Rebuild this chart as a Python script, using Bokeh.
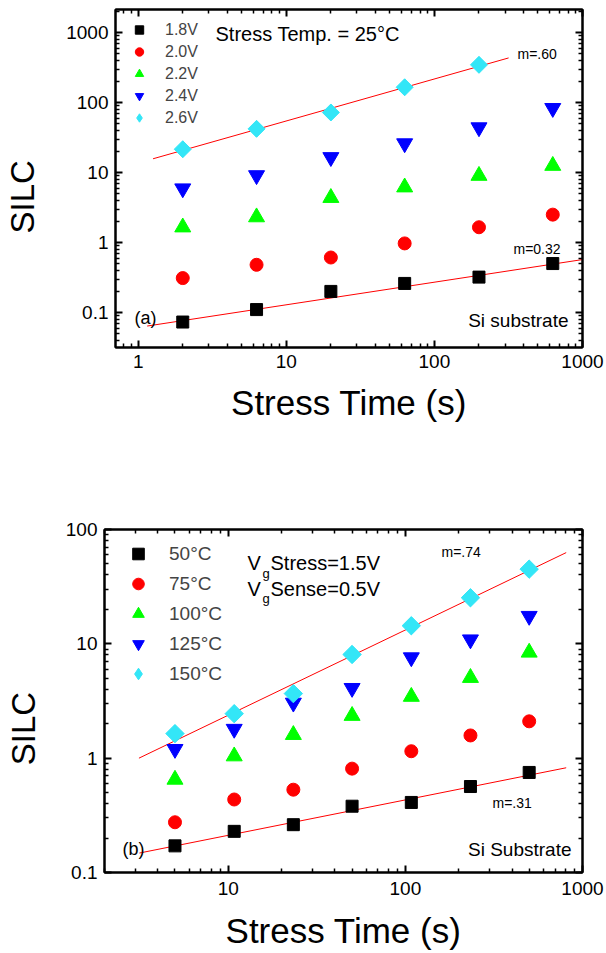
import numpy as np
from bokeh.plotting import figure
from bokeh.models import (LogAxis, FixedTicker, CustomJSTickFormatter, Label,
                          Legend, LegendItem, Range1d)
from bokeh.embed import file_html
from bokeh.resources import INLINE

FONT = "Liberation Sans"
NB = "\u00a0"

# ---------------- panel (a) data ----------------
time_a = [2, 6.3, 20, 63, 200, 630]
silc_18v = [0.073, 0.11, 0.20, 0.26, 0.32, 0.50]
silc_20v = [0.31, 0.48, 0.61, 0.97, 1.65, 2.5]
silc_22v = [1.65, 2.3, 4.35, 6.15, 9.0, 12.5]
silc_24v = [5.9, 9.1, 16.5, 26, 44, 83]
silc_26v = [21.5, 42, 72, 165, 345]
fit_a_hi_x = [1.26, 317]
fit_a_hi_y = [15.7, 433]
fit_a_lo_x = [1.15, 1000]
fit_a_lo_y = [0.064, 0.57]
labels_a = ["1.8V", "2.0V", "2.2V", "2.4V", "2.6V"]

# ---------------- panel (b) data ----------------
time_b = [5, 10.8, 23.3, 50, 108, 233, 500]
silc_50c = [0.171, 0.229, 0.262, 0.38, 0.41, 0.565, 0.75]
silc_75c = [0.275, 0.435, 0.53, 0.81, 1.15, 1.58, 2.1]
silc_100c = [0.65, 1.04, 1.6, 2.35, 3.45, 5.05, 8.4]
silc_125c = [1.2, 1.8, 3.05, 4.1, 7.6, 10.9, 17.5]
silc_150c = [1.64, 2.45, 3.67, 8.07, 14.4, 25.3, 45]
fit_b_hi_x = [3.13, 809]
fit_b_hi_y = [1.0, 62.8]
fit_b_lo_x = [3.15, 809]
fit_b_lo_y = [0.148, 0.824]
labels_b = ["50°C", "75°C", "100°C", "125°C", "150°C"]

xticks_a = [1, 10, 100, 1000]
yticks_a = [0.1, 1, 10, 100, 1000]
xticks_b = [10, 100, 1000]
yticks_b = [0.1, 1, 10, 100]

COLORS = ["#000000", "#FF0000", "#00FF00", "#0000FF", "#33E6F7"]
MARKERS = ["square", "circle", "triangle", "inverted_triangle", "square"]
ANGLES = [0, 0, 0, 0, np.pi / 4]


def minors(lo_exp, hi_exp):
    return [m * 10.0 ** k for k in range(lo_exp, hi_exp) for m in range(2, 10)]


def style(p, xt, yt, xminor, yminor, xstand, xlab_stand, ylab_stand, ylabel):
    fmt = CustomJSTickFormatter(code="return String(tick);")
    blank = CustomJSTickFormatter(code="return '';")
    bottom = p.below[0]
    left = p.left[0]
    bottom.ticker = FixedTicker(ticks=xt, minor_ticks=xminor)
    left.ticker = FixedTicker(ticks=yt, minor_ticks=yminor)
    bottom.formatter = fmt
    left.formatter = fmt
    top = LogAxis(ticker=FixedTicker(ticks=xt, minor_ticks=xminor),
                  formatter=blank, major_label_text_font_size="1px",
                  major_label_standoff=0)
    right = LogAxis(ticker=FixedTicker(ticks=yt, minor_ticks=yminor),
                    formatter=blank, major_label_text_font_size="1px",
                    major_label_standoff=0)
    p.add_layout(top, "above")
    p.add_layout(right, "right")
    for ax in [bottom, left, top, right]:
        ax.axis_line_width = 2
        ax.axis_line_color = "black"
        ax.major_tick_in = 7
        ax.major_tick_out = 0
        ax.minor_tick_in = 4
        ax.minor_tick_out = 0
        ax.major_tick_line_width = 2
        ax.minor_tick_line_width = 1.5
        ax.major_tick_line_color = "black"
        ax.minor_tick_line_color = "black"
    for ax in [bottom, left]:
        ax.major_label_text_font = FONT
        ax.major_label_text_font_size = "19px"
        ax.major_label_text_color = "black"
        ax.axis_label_text_font = FONT
        ax.axis_label_text_font_style = "normal"
        ax.axis_label_text_color = "black"
    bottom.axis_label_text_font_size = "35px"
    left.axis_label_text_font_size = "33px"
    left.major_label_standoff = 7
    bottom.major_label_standoff = xstand
    bottom.axis_label = "Stress Time (s)"
    bottom.axis_label_standoff = xlab_stand
    left.axis_label = ylabel
    left.axis_label_standoff = ylab_stand
    p.xgrid.visible = False
    p.ygrid.visible = False
    p.outline_line_color = "black"
    p.outline_line_width = 2


def lab(p, x, y, text, size, align="left"):
    p.add_layout(Label(x=x, y=y, x_units="screen", y_units="screen", text=text,
                       text_font=FONT, text_font_size=size, text_align=align,
                       text_baseline="middle", text_color="black"))


def plot_series(p, xs, series, sizes, labels):
    items = []
    for i, (s, m, sz, ang, c, l) in enumerate(zip(series, MARKERS, sizes, ANGLES,
                                                  COLORS, labels)):
        x = xs[:len(s)]
        if i == len(series) - 1:
            # diamond swatch for the legend, hidden beneath the wide diamonds
            leg_r = p.scatter(x, s, marker="diamond", size=sz + 4,
                              fill_color=c, line_color=c)
            p.scatter(x, s, marker=m, size=sz, angle=ang,
                      fill_color=c, line_color=c)
        else:
            leg_r = p.scatter(x, s, marker=m, size=sz, angle=ang,
                              fill_color=c, line_color=c)
        items.append(LegendItem(label=l, renderers=[leg_r]))
    return items


# ================= panel (a) =================
p1 = figure(width=606, height=470, x_axis_type="log", y_axis_type="log",
            x_range=Range1d(0.703, 1000), y_range=Range1d(0.0316, 2130),
            output_backend="svg", toolbar_location=None,
            min_border_left=115, min_border_right=24, min_border_top=9,
            min_border_bottom=123, background_fill_color="white",
            border_fill_color="white")
style(p1, xticks_a, yticks_a, minors(-1, 3), minors(-2, 4),
      7, 12, 22, "SILC" + NB * 4)

p1.line(fit_a_hi_x, fit_a_hi_y, line_color="#FF0000", line_width=1)
p1.line(fit_a_lo_x, fit_a_lo_y, line_color="#FF0000", line_width=1)

items1 = plot_series(p1, time_a, [silc_18v, silc_20v, silc_22v, silc_24v, silc_26v],
                     [12, 13, 16, 16, 12], labels_a)
leg1 = Legend(items=items1, location=(13, 219), glyph_width=22, glyph_height=21,
              label_height=21, spacing=1, padding=0, margin=0, label_standoff=15,
              border_line_alpha=0, background_fill_alpha=0,
              label_text_font=FONT, label_text_font_size="16px")
p1.add_layout(leg1)

lab(p1, 100, 314, "Stress Temp. = 25°C", "20px")
lab(p1, 402, 294, "m=.60", "14px")
lab(p1, 398, 99, "m=0.32", "14px")
lab(p1, 19, 30, "(a)", "18px")
lab(p1, 453, 27, "Si substrate", "19px", align="right")

# ================= panel (b) =================
p2 = figure(width=606, height=483, x_axis_type="log", y_axis_type="log",
            x_range=Range1d(2.0, 1000), y_range=Range1d(0.1, 100),
            output_backend="svg", toolbar_location=None,
            min_border_left=104, min_border_right=24, min_border_top=59,
            min_border_bottom=81, background_fill_color="white",
            border_fill_color="white")
style(p2, xticks_b, yticks_b, minors(0, 3), minors(-1, 2),
      9, 13, 21, "SILC" + NB * 6)

p2.line(fit_b_hi_x, fit_b_hi_y, line_color="#FF0000", line_width=1)
p2.line(fit_b_lo_x, fit_b_lo_y, line_color="#FF0000", line_width=1)

items2 = plot_series(p2, time_b, [silc_50c, silc_75c, silc_100c, silc_125c, silc_150c],
                     [12, 13, 16, 16, 13], labels_b)
leg2 = Legend(items=items2, location=(19, 184), glyph_width=30, glyph_height=29,
              label_height=29, spacing=1, padding=0, margin=0, label_standoff=16,
              border_line_alpha=0, background_fill_alpha=0,
              label_text_font=FONT, label_text_font_size="19px")
p2.add_layout(leg2)

lab(p2, 143, 310, "V", "20px")
lab(p2, 158, 299, "g", "13px")
lab(p2, 166, 310, "Stress=1.5V", "20px")
lab(p2, 143, 284, "V", "20px")
lab(p2, 158, 274, "g", "13px")
lab(p2, 166, 284, "Sense=0.5V", "20px")
lab(p2, 337, 321, "m=.74", "14px")
lab(p2, 388, 70, "m=.31", "14px")
lab(p2, 18, 24, "(b)", "18px")
lab(p2, 467, 23, "Si Substrate", "19px", align="right")

open("out.html", "w").write(file_html([p1, p2], INLINE))
